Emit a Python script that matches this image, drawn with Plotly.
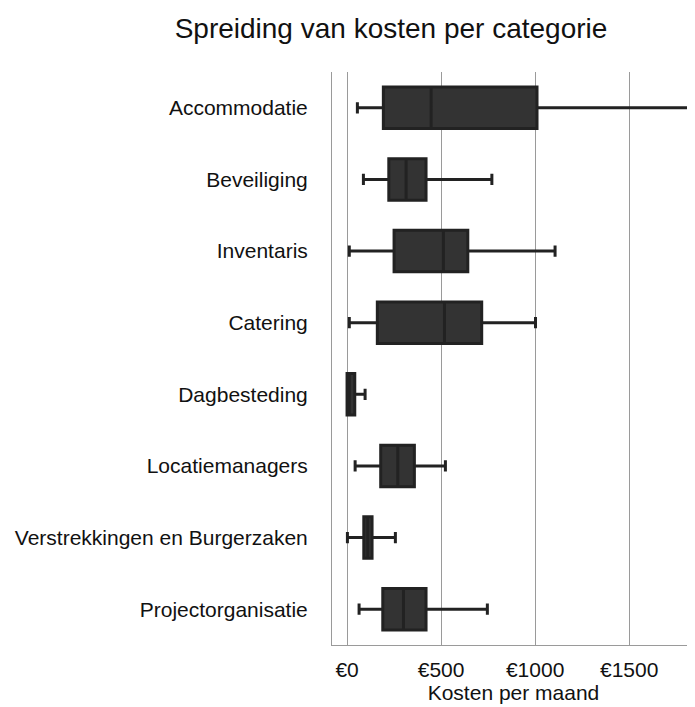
import plotly.graph_objects as go

categories = ["Accommodatie", "Beveiliging", "Inventaris", "Catering", "Dagbesteding",
              "Locatiemanagers", "Verstrekkingen en Burgerzaken", "Projectorganisatie"]
lower = [55, 87, 12, 12, 0, 43, 2, 64]
q1 = [193, 222, 250, 161, 0, 179, 89, 190]
median = [447, 314, 512, 518, 12, 270, 110, 300]
q3 = [1010, 420, 642, 716, 41, 358, 133, 420]
upper = [1842, 770, 1106, 1002, 96, 523, 257, 746]

tick_vals = [0, 500, 1000, 1500]
tick_text = ["€0", "€500", "€1000", "€1500"]

fig = go.Figure()
fig.add_trace(go.Box(
    y=categories, q1=q1, median=median, q3=q3,
    lowerfence=lower, upperfence=upper,
    orientation="h",
    fillcolor="#333333",
    line=dict(color="#222222", width=3),
    whiskerwidth=0.27,
    boxpoints=False,
    showlegend=False,
))

fig.update_layout(
    width=687, height=699,
    margin=dict(l=324, r=0, t=64, b=62),
    paper_bgcolor="white", plot_bgcolor="white",
    font=dict(family="Liberation Sans, Arial", size=21, color="#111"),
    title=dict(text="Spreiding van kosten per categorie", x=0.5575, xref="container",
               xanchor="center", y=0.971, yref="container", yanchor="middle",
               font=dict(size=28, color="#111")),
    boxgap=0.17,
)
fig.update_xaxes(
    range=[-80, 1850], tickvals=tick_vals, ticktext=tick_text,
    showgrid=True, gridcolor="#9a9a9a", gridwidth=1,
    zeroline=False, showline=True, linecolor="#9a9a9a", linewidth=1,
    ticks="outside", ticklen=6, tickcolor="rgba(0,0,0,0)",
    title=dict(text="Kosten per maand", standoff=2, font=dict(size=21)),
    tickfont=dict(size=21),
)
fig.update_yaxes(
    categoryorder="array", categoryarray=categories, autorange="reversed",
    showgrid=False, showline=True, linecolor="#9a9a9a", linewidth=1,
    ticks="outside", ticklen=19, tickcolor="rgba(0,0,0,0)",
    tickfont=dict(size=21),
)

fig.write_html("out.html")
